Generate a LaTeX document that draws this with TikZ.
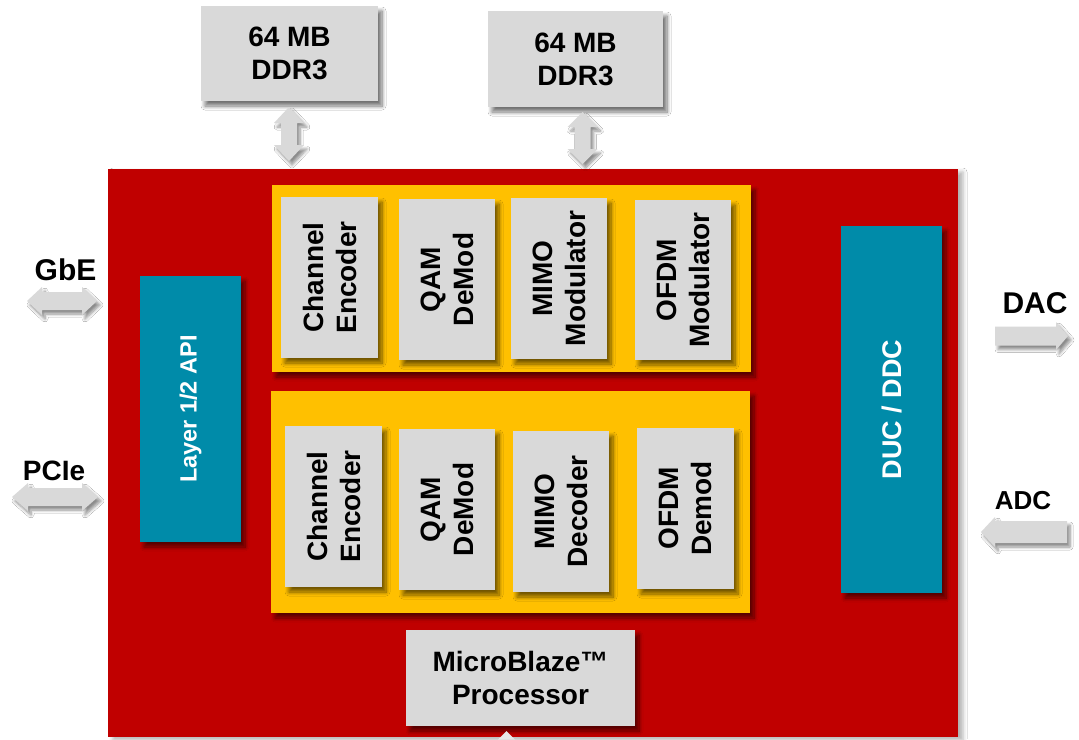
\documentclass[tikz,border=0pt]{standalone}
\usepackage{fontspec}
\setmainfont{Liberation Sans}
\usetikzlibrary{shadows.blur}
\definecolor{xred}{HTML}{C00000}
\definecolor{xorange}{HTML}{FFC000}
\definecolor{xgray}{HTML}{D9D9D9}
\definecolor{xteal}{HTML}{008BA9}
\newcommand\hdarrow[6]{% xL xR yc s h L
  \fill[arr] (#1,#3) -- ({#1+#6},{#3-#5}) -- ({#1+#6},{#3-#4}) -- ({#2-#6},{#3-#4}) -- ({#2-#6},{#3-#5}) -- (#2,#3) -- ({#2-#6},{#3+#5}) -- ({#2-#6},{#3+#4}) -- ({#1+#6},{#3+#4}) -- ({#1+#6},{#3+#5}) -- cycle;}
\newcommand\vdarrow[6]{% yT yB xc s h L
  \fill[arr] (#3,#1) -- ({#3-#5},{#1+#6}) -- ({#3-#4},{#1+#6}) -- ({#3-#4},{#2-#6}) -- ({#3-#5},{#2-#6}) -- (#3,#2) -- ({#3+#5},{#2-#6}) -- ({#3+#4},{#2-#6}) -- ({#3+#4},{#1+#6}) -- ({#3+#5},{#1+#6}) -- cycle;}
\newcommand\rarrow[6]{% xL xR yc s h L
  \fill[arr] (#1,{#3-#4}) -- ({#2-#6},{#3-#4}) -- ({#2-#6},{#3-#5}) -- (#2,#3) -- ({#2-#6},{#3+#5}) -- ({#2-#6},{#3+#4}) -- (#1,{#3+#4}) -- cycle;}
\newcommand\larrow[6]{% xL xR yc s h L
  \fill[arr] (#1,#3) -- ({#1+#6},{#3-#5}) -- ({#1+#6},{#3-#4}) -- (#2,{#3-#4}) -- (#2,{#3+#4}) -- ({#1+#6},{#3+#4}) -- ({#1+#6},{#3+#5}) -- cycle;}
\tikzset{
  blk/.style={inner sep=0pt, outer sep=0pt, draw=none,
    blur shadow={shadow xshift=4pt, shadow yshift=-5pt, shadow blur radius=4pt, shadow blur steps=8, shadow opacity=55}},
  gbox/.style={blk, fill=xgray, font=\fontsize{28}{33}\selectfont\bfseries, align=center},
  obox/.style={blk, fill=xorange},
  tbox/.style={blk, fill=xteal, text=white, align=center},
  rlbl/.style={rotate=90, font=\fontsize{28}{33}\selectfont\bfseries, align=center, inner sep=0pt},
  lbl/.style={inner sep=0pt, font=\bfseries},
  arr/.style={fill=xgray, blur shadow={shadow xshift=3pt, shadow yshift=-4pt, shadow blur radius=3pt, shadow blur steps=6, shadow opacity=45}},
}
\begin{document}
\begin{tikzpicture}[x=1pt,y=-1pt]
\useasboundingbox (0,0) rectangle (1079,739);
\fill[white] (0,0) rectangle (1079,739);
% main FPGA box
\node[inner sep=0pt, outer sep=0pt, fill=xred, minimum width=850, minimum height=568,
  blur shadow={shadow xshift=5pt, shadow yshift=-3pt, shadow blur radius=4pt, shadow opacity=30}] (main) at (533,453) {};
% memories
\node[gbox, minimum width=177, minimum height=95] (ddrA) at (289.5,53.5) {64 MB\\DDR3};
\node[gbox, minimum width=175, minimum height=96] (ddrB) at (575.5,59) {64 MB\\DDR3};
% memory arrows
\vdarrow{107}{161}{289}{8}{15}{16}
\vdarrow{112}{164}{582.5}{8}{15}{15}
% orange groups
\node[obox, minimum width=479, minimum height=187] (txgrp) at (511.5,278.5) {};
\node[obox, minimum width=479, minimum height=222] (rxgrp) at (510.5,502) {};
% transmit chain
\node[gbox, minimum width=97, minimum height=161, label={[rlbl]center:Channel\\Encoder}] (ce1) at (329.5,277.5) {};
\node[gbox, minimum width=96, minimum height=161, label={[rlbl]center:QAM\\DeMod}] (qam1) at (447,279.5) {};
\node[gbox, minimum width=96, minimum height=161, label={[rlbl]center:MIMO\\Modulator}] (mimo1) at (559,278.5) {};
\node[gbox, minimum width=96, minimum height=160, label={[rlbl]center:OFDM\\Modulator}] (ofdm1) at (683,280) {};
% receive chain
\node[gbox, minimum width=97, minimum height=161, label={[rlbl]center:Channel\\Encoder}] (ce2) at (333.5,506.5) {};
\node[gbox, minimum width=96, minimum height=161, label={[rlbl]center:QAM\\DeMod}] (qam2) at (447,509.5) {};
\node[gbox, minimum width=96, minimum height=161, label={[rlbl]center:MIMO\\Decoder}] (mimo2) at (561,511.5) {};
\node[gbox, minimum width=97, minimum height=161, label={[rlbl]center:OFDM\\Demod}] (ofdm2) at (685.5,508.5) {};
% teal blocks
\node[tbox, minimum width=101, minimum height=266,
  label={[rotate=90, text=white, inner sep=0pt, font=\fontsize{23.5}{28}\selectfont\bfseries]center:Layer 1/2 API}] (api) at (190.5,409) {};
\node[tbox, minimum width=101, minimum height=367,
  label={[rotate=90, text=white, inner sep=0pt, font=\fontsize{27}{32}\selectfont\bfseries]center:DUC / DDC}] (duc) at (891.5,409.5) {};
% processor
\node[gbox, minimum width=229, minimum height=96] (mb) at (520.5,678) {MicroBlaze™\\Processor};
\fill[xgray!60!white] (498,739.5) -- (506.5,731) -- (515,739.5) -- cycle;
% external interfaces
\node[lbl, font=\fontsize{30}{34}\selectfont\bfseries] (gbe) at (65.5,270) {GbE};
\hdarrow{27}{97}{301}{9}{14}{15}
\node[lbl, font=\fontsize{28}{32}\selectfont\bfseries] (pcie) at (54,470.5) {PCIe};
\hdarrow{12}{98}{497}{9}{14}{16}
\node[lbl, font=\fontsize{30}{34}\selectfont\bfseries] (dac) at (1035,303) {DAC};
\rarrow{995}{1068}{336}{9.5}{14}{12}
\node[lbl, font=\fontsize{26}{30}\selectfont\bfseries] (adc) at (1023,501) {ADC};
\larrow{981}{1067}{532}{11}{15}{14}
\end{tikzpicture}
\end{document}
